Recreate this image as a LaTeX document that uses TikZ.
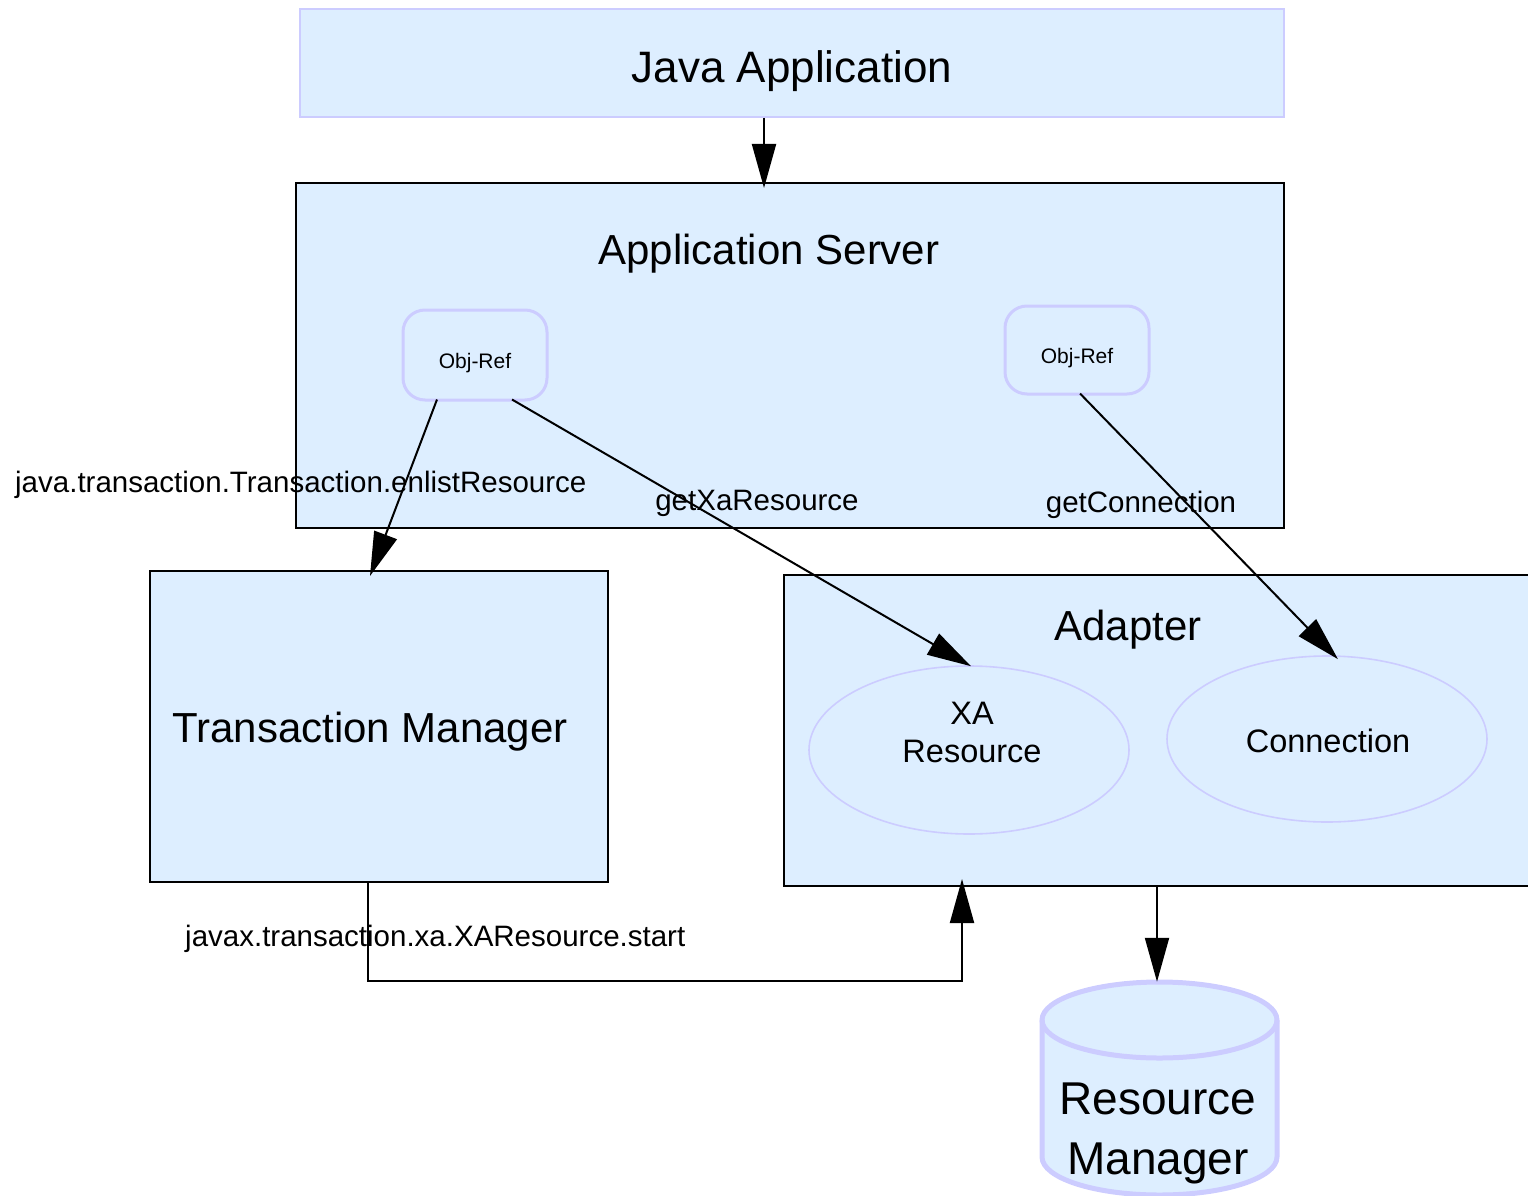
\documentclass[tikz,border=0pt]{standalone}
\usepackage{fontspec}
\setmainfont{Liberation Sans}
\usetikzlibrary{arrows.meta,shapes.geometric}
\definecolor{boxfill}{RGB}{221,238,255}
\definecolor{lav}{RGB}{204,204,255}
\begin{document}
\begin{tikzpicture}[x=1pt,y=-1pt,
  solidbox/.style={draw=black, line width=2pt, fill=boxfill, inner sep=0pt, anchor=north west},
  palebox/.style={draw=lav, line width=2pt, fill=boxfill, inner sep=0pt, anchor=north west},
  objref/.style={draw=lav, line width=3pt, fill=boxfill, rounded corners=22pt, inner sep=0pt,
    minimum width=144pt},
  small/.style={font=\fontsize{21}{24}\selectfont},
  comp/.style={ellipse, draw=lav, line width=1.6pt, fill=boxfill, inner sep=0pt,
    minimum width=320pt},
  big/.style={font=\fontsize{44}{50}\selectfont},
  title/.style={font=\fontsize{42}{48}\selectfont},
  mid/.style={font=\fontsize{32.5}{38}\selectfont, align=center},
  lbl/.style={font=\fontsize{29.5}{34}\selectfont, inner sep=0pt},
  conn/.style={draw=black, line width=2pt, -{Triangle[length=44pt,width=24pt]}}
]
\useasboundingbox (0,0) rectangle (1528,1196);

% top-level boxes
\node[palebox, minimum width=984pt, minimum height=108pt] (java) at (299,8) {};
\node[big] (javatitle) at (792,71) {Java Application};

\node[solidbox, minimum width=988pt, minimum height=345pt] (as) at (295,182) {};
\node[title] (astitle) at (769,254) {Application Server};

\node[solidbox, minimum width=458pt, minimum height=311pt] (tm) at (149,570) {};
\node[title] (tmtitle) at (370,732) {Transaction Manager};

\node[solidbox, minimum width=760pt, minimum height=311pt] (ad) at (783,574) {};
\node[title] (adtitle) at (1128,630) {Adapter};

% object references inside the application server
\node[objref, minimum height=90pt] (or1) at (475,355) {};
\node[small] (or1text) at (475,363) {Obj-Ref};
\node[objref, minimum height=88pt] (or2) at (1077,350) {};
\node[small] (or2text) at (1077,358) {Obj-Ref};

% components inside the adapter
\node[comp, minimum height=168pt] (xa) at (969,750) {};
\node[mid] (xatext) at (972,732) {XA\\Resource};
\node[comp, minimum height=166pt] (cn) at (1327,739) {};
\node[mid] (cntext) at (1328,741) {Connection};

% resource manager cylinder
\node[minimum width=234pt, minimum height=214pt, inner sep=0pt] (rm) at (1157,1089) {};
\path[fill=boxfill, draw=lav, line width=5pt, line join=round]
  (1042,1020) -- (1042,1157)
  arc[start angle=180, end angle=360, x radius=117.5pt, y radius=38pt]
  -- (1277,1020)
  arc[start angle=0, end angle=180, x radius=117.5pt, y radius=38pt] -- cycle;
\draw[draw=lav, line width=5pt]
  (1042,1020) arc[start angle=180, end angle=360, x radius=117.5pt, y radius=38pt];
\node[align=center, font=\fontsize{46}{60}\selectfont] (rmtext) at (1158,1133) {Resource\\Manager};

% connectors
\draw[conn] ([xshift=-28pt]java.south) -- ([xshift=-26pt,yshift=-6pt]as.north);
\draw[conn] ([xshift=-38pt,yshift=2pt]or1.south) -- ([xshift=-9pt,yshift=-6pt]tm.north);
\draw[conn] ([xshift=37pt,yshift=2pt]or1.south) -- ([xshift=2pt,yshift=-1pt]xa.north);
\draw[conn] ([xshift=3pt,yshift=2pt]or2.south) -- ([xshift=11pt,yshift=-4pt]cn.north);
\draw[conn] ([xshift=-11pt,yshift=2pt]tm.south) -- ++(0,100) -| ([xshift=-202pt,yshift=8pt]ad.south);
\draw[conn] (rm.north |- ad.south) -- (rm.north);

% connector labels
\node[lbl, anchor=west] (l1) at (15,485) {java.transaction.Transaction.enlistResource};
\node[lbl] (l2) at (757,503) {getXaResource};
\node[lbl] (l3) at (1141,505) {getConnection};
\node[lbl, anchor=west] (l4) at (185,939) {javax.transaction.xa.XAResource.start};
\end{tikzpicture}
\end{document}
